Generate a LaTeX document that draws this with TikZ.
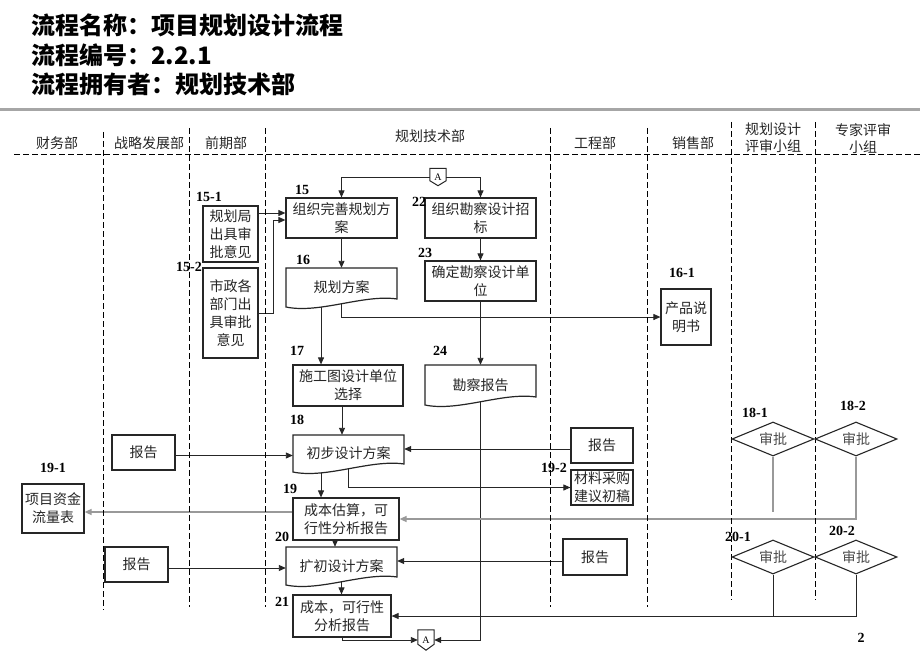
\documentclass[tikz,border=0pt]{standalone}
\usepackage{fontspec}
\setmainfont{Liberation Serif}
\newfontfamily\cjk{Noto Sans CJK SC}
\usetikzlibrary{arrows.meta,shapes.geometric,backgrounds,calc}
\tikzset{
  txt/.style={font=\cjk\fontsize{14}{18}\selectfont, text=black!85, align=center},
  box/.style={txt, draw=black!85, line width=1.2pt, inner sep=0pt},
  docn/.style={txt, inner sep=0pt},
  docline/.style={draw=black!85, line width=1.2pt, fill=white},
  num/.style={font=\bfseries\fontsize{14}{14}\selectfont, inner sep=0pt},
  hd/.style={font=\cjk\fontsize{14}{17}\selectfont, align=center, inner sep=0pt, text=black!85},
  ttl/.style={font=\cjk\bfseries\fontsize{24}{24}\selectfont, anchor=west, inner sep=0pt},
  lane/.style={line width=1pt, dash pattern=on 6pt off 3pt},
  arr/.style={-{Triangle[length=7pt,width=6pt]}, line width=0.9pt, draw=black!85},
  ln/.style={line width=0.9pt, draw=black!85},
  gln/.style={line width=1.5pt, draw=gray!80},
  garr/.style={-{Triangle[length=7pt,width=6pt]}, line width=1.5pt, draw=gray!80},
  dia/.style={diamond, draw=black!85, line width=1.1pt, inner sep=0pt, aspect=2.4, minimum width=82pt, minimum height=34pt, font=\cjk\fontsize{14}{14}\selectfont, text=black!70},
  offp/.style={inner sep=0pt, font=\fontsize{10}{10}\selectfont},
  offline/.style={draw=black!85, line width=1pt},
}
\newcommand\mydoc[6]{%
 \path[docline] ({#2-#4/2},{#3-#5/2}) -- ({#2+#4/2},{#3-#5/2}) -- ({#2+#4/2},{#3+#5/2-8}) .. controls ({#2+#4*0.2},{#3+#5/2-13}) and ({#2-#4*0.2},{#3+#5/2+7}) .. ({#2-#4/2},{#3+#5/2}) -- cycle;
 \node[docn, minimum width=#4pt, minimum height=#5pt] (#1) at (#2,#3) {#6};}
\begin{document}
\begin{tikzpicture}[x=1pt,y=-1pt]
\useasboundingbox (0,0) rectangle (920,663);
\begin{scope}[on background layer]
\fill[white] (0,0) rectangle (920,663);
\end{scope}

% title
\node[ttl] (t1) at (31,25) {流程名称：项目规划设计流程};
\node[ttl] (t2) at (31,55) {流程编号：2.2.1};
\node[ttl] (t3) at (31,84) {流程拥有者：规划技术部};
\draw[line width=3pt, gray!70] (0,110) -- (920,110);

% lanes
\draw[lane] (14,155) -- (920,155);
\draw[lane] (103,132) -- (103,610);
\draw[lane] (189,128) -- (189,607);
\draw[lane] (265,128) -- (265,607);
\draw[lane] (550,128) -- (550,607);
\draw[lane] (647,128) -- (647,607);
\draw[lane] (731,122) -- (731,600);
\draw[lane] (815,122) -- (815,600);

\node[hd] (h1) at (57,143) {财务部};
\node[hd] (h2) at (149,143) {战略发展部};
\node[hd] (h3) at (226,143) {前期部};
\node[hd] (h4) at (430,136) {规划技术部};
\node[hd] (h5) at (595,143) {工程部};
\node[hd] (h6) at (693,143) {销售部};
\node[hd] (h7) at (773,138) {规划设计\\评审小组};
\node[hd] (h8) at (863,139) {专家评审\\小组};

% process boxes
\node[box, minimum width=111pt, minimum height=40pt] (n15) at (341.5,218) {组织完善规划方\\案};
\node[box, minimum width=111pt, minimum height=40pt] (n22) at (480.5,218) {组织勘察设计招\\标};
\node[box, minimum width=111pt, minimum height=40pt] (n23) at (480.5,281) {确定勘察设计单\\位};
\mydoc{n24}{480.5}{385}{111}{40}{勘察报告}
\mydoc{n16}{341.5}{287.5}{111}{39}{规划方案}
\node[box, minimum width=110pt, minimum height=41pt] (n17) at (348,385.5) {施工图设计单位\\选择};
\mydoc{n18}{348.5}{453.5}{111}{37}{初步设计方案}
\node[box, minimum width=106pt, minimum height=42pt] (n19) at (346,519) {成本估算，可\\行性分析报告};
\mydoc{n20}{341.5}{566}{111}{38}{扩初设计方案}
\node[box, minimum width=98pt, minimum height=42pt] (n21) at (342,616) {成本，可行性\\分析报告};

\node[box, minimum width=55pt, minimum height=56pt] (n151) at (230.5,234) {规划局\\出具审\\批意见};
\node[box, minimum width=55pt, minimum height=90pt] (n152) at (230.5,313) {市政各\\部门出\\具审批\\意见};
\node[box, minimum width=50pt, minimum height=56pt] (n161) at (686,317) {产品说\\明书};
\node[box, minimum width=63pt, minimum height=35pt] (r1) at (143.5,452.5) {报告};
\node[box, minimum width=63pt, minimum height=35pt] (r2) at (136.5,564.5) {报告};
\node[box, minimum width=62pt, minimum height=49pt] (n191) at (53,508.5) {项目资金\\流量表};
\node[box, minimum width=62pt, minimum height=35pt] (r3) at (602,445.5) {报告};
\node[box, minimum width=62pt, minimum height=35pt] (n192) at (602,487.5) {材料采购\\建议初稿};
\node[box, minimum width=64pt, minimum height=36pt] (r4) at (595,557) {报告};

\node[dia] (d181) at (773,439) {审批};
\node[dia] (d182) at (856,439) {审批};
\node[dia] (d201) at (773,557) {审批};
\node[dia] (d202) at (856,557) {审批};

% off-page connectors
\node[offp, minimum width=16pt, minimum height=17pt] (a1) at (438,177) {A};
\draw[offline] (a1.north west) -- (a1.north east) -- ([yshift=5pt]a1.south east) -- (a1.south) -- ([yshift=5pt]a1.south west) -- cycle;
\node[offp, minimum width=16pt, minimum height=20pt] (a2) at (426,640) {A};
\draw[offline] (a2.north west) -- (a2.north east) -- ([yshift=6pt]a2.south east) -- (a2.south) -- ([yshift=6pt]a2.south west) -- cycle;

% step numbers
\node[num] (l15) at (302,190) {15};
\node[num] (l22) at (419,202) {22};
\node[num] (l16) at (303,260) {16};
\node[num] (l23) at (425,253) {23};
\node[num] (l24) at (440,351) {24};
\node[num] (l17) at (297,351) {17};
\node[num] (l18) at (297,420) {18};
\node[num] (l19) at (290,489) {19};
\node[num] (l20) at (282,537) {20};
\node[num] (l21) at (282,602) {21};
\node[num] (l151) at (209,197) {15-1};
\node[num] (l152) at (189,267) {15-2};
\node[num] (l161) at (682,273) {16-1};
\node[num] (l181) at (755,413) {18-1};
\node[num] (l182) at (853,406) {18-2};
\node[num] (l191) at (53,468) {19-1};
\node[num] (l192) at (554,468) {19-2};
\node[num] (l201) at (738,537) {20-1};
\node[num] (l202) at (842,531) {20-2};
\node[num] (pg) at (861,638) {2};

\coordinate (e181) at (773,512);

% connectors
\begin{scope}[on background layer]
\draw[arr] (a1.west) -| (n15.north);
\draw[arr] (a1.east) -| (n22.north);
\draw[arr] (n15.south) -- (n16.north);
\draw[arr] (n22.south) -- (n23.north);
\draw[arr] (n23.south) -- (n24.north);
\draw[arr] ([yshift=21pt]n151.east) -- ([yshift=21pt]n151.east -| n15.west);
\draw[arr] (n152.east) -- ++(15,0) |- ([yshift=-2pt]n15.west);
\draw[arr] ([xshift=-20.5pt]n16.center) -- ([xshift=-20.5pt]n16.center |- n17.north);
\draw[arr] (n16.center) |- (n161.west);
\draw[arr] ([xshift=-6pt]n17.south) -- ([xshift=-6pt]n17.south |- n18.north);
\draw[arr] (n24.center) |- (a2.east);
\draw[arr] (n21.south) |- (a2.west);
\draw[arr] ([yshift=-3pt]r1.east) -- ([yshift=-3pt]r1.east -| n18.west);
\draw[arr] ([yshift=-3.5pt]r3.west) -- ([yshift=-3.5pt]r3.west -| n18.east);
\draw[arr] ([xshift=-27.5pt]n18.center) -- ([xshift=-27.5pt]n18.center |- n19.north);
\draw[arr] (n18.center) |- (n192.west);
\draw[garr] ([yshift=7pt]n19.west) -- ([yshift=7pt]n19.west -| n191.east);
\draw[garr] (d182.south) |- (n19.east);
\draw[gln] (d181.south) -- (e181);
\draw[arr] ([xshift=-11pt]n19.south) -- ([xshift=-11pt]n19.south |- n20.north);
\draw[arr] ([yshift=-3.5pt]r2.east) -- ([yshift=-3.5pt]r2.east -| n20.west);
\draw[arr] ([yshift=-4pt]r4.west) -- ([yshift=-4pt]r4.west -| n20.east);
\draw[arr] (n20.center) -- (n20.center |- n21.north);
\draw[arr] (d202.south) |- (n21.east);
\draw[ln] (d201.south) -- (d201.south |- n21.east);
\end{scope}
\end{tikzpicture}
\end{document}
